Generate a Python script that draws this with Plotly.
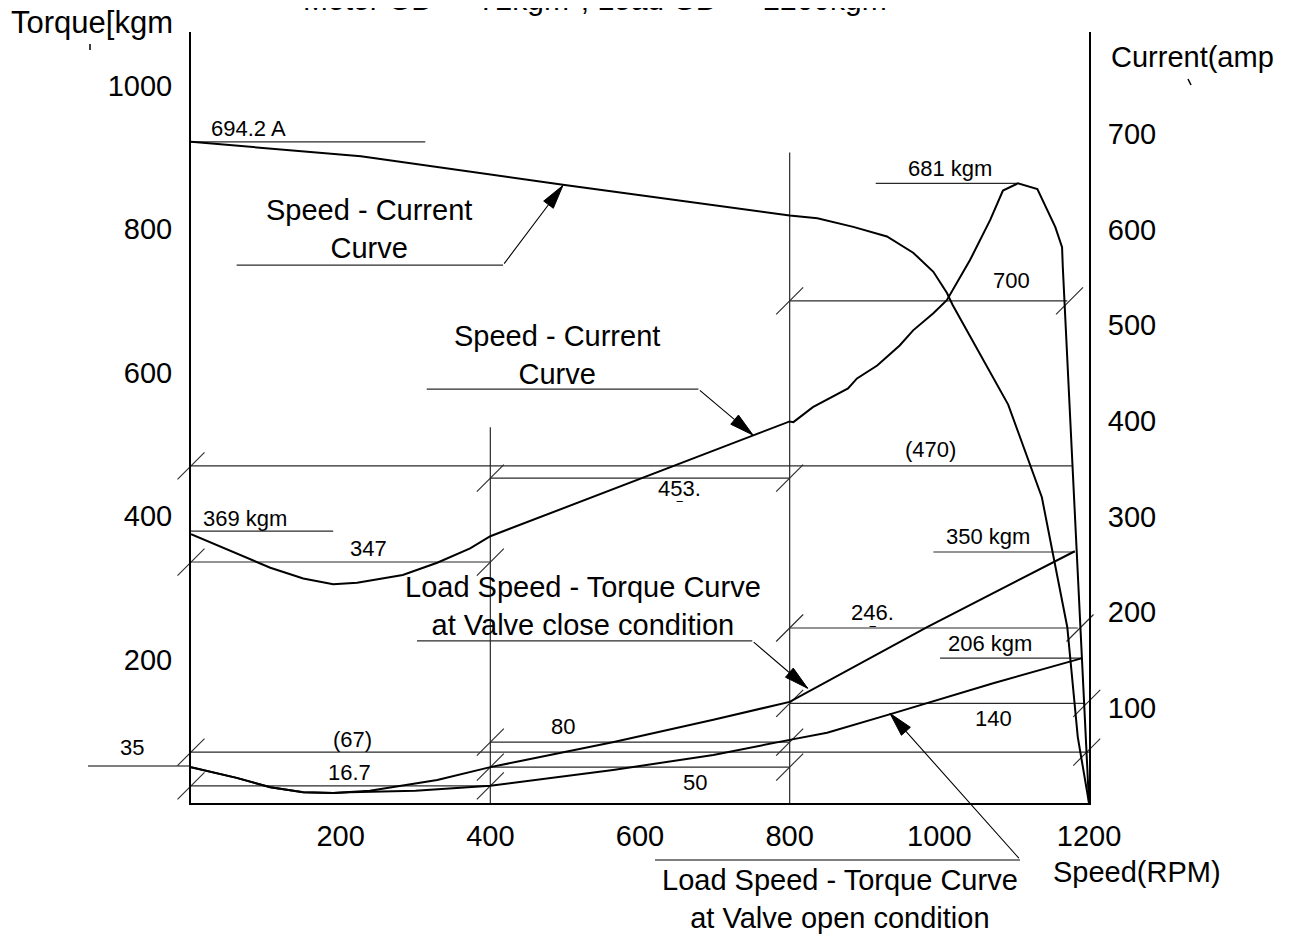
import math
import plotly.graph_objects as go

# ---------------- data ----------------
x_ticks = [200, 400, 600, 800, 1000, 1200]
torque_ticks = [200, 400, 600, 800, 1000]
current_ticks = [100, 200, 300, 400, 500, 600, 700]

# motor speed-torque curve (kgm)
motor_speed = [0, 61, 106, 150, 190, 222, 283, 329, 373, 400, 800, 805, 831, 878, 890, 917, 947,
               965, 992, 1010, 1041, 1068, 1085, 1105, 1131, 1155, 1164, 1165, 1200]
motor_torque = [375, 348, 328, 313, 305, 307, 318, 335, 355, 372, 532, 531, 552, 578, 592, 610, 638,
                659, 683, 701, 757, 813, 854, 864, 856, 803, 775, 747, 0]

# speed-current curve (A, right axis)
cur_speed = [0, 227, 497, 800, 837, 885, 930, 965, 992, 1010, 1018, 1092, 1137, 1171, 1185, 1200]
cur_amp = [692, 677, 647, 615, 612, 603, 593, 576, 556, 534, 521, 417, 320, 184, 69, 0]

# load curve, valve close (kgm)
close_speed = [0, 61, 106, 150, 190, 239, 329, 400, 565, 698, 800, 983, 1181]
close_torque = [50, 35, 22, 15, 14, 17, 32, 50, 85, 116, 141, 245, 351]

# load curve, valve open (kgm)
open_speed = [0, 61, 106, 150, 190, 212, 300, 400, 564, 698, 800, 850, 938, 1072, 1191]
open_torque = [50, 35, 22, 15, 14, 15, 17, 24, 46, 67, 88, 98, 125, 167, 202]

# dimension lines (kgm level, speed from, speed to)
dim_y = [470, 453, 336, 700, 244, 139, 71, 85, 50, 24]
dim_x0 = [0, 400, 0, 800, 800, 800, 0, 400, 400, 0]
dim_x1 = [1177, 800, 400, 1171, 1185, 1195, 1200, 800, 800, 400]

# dimension end ticks
tick_speed = [0, 0, 400, 400, 800, 800, 1174, 800, 1188, 800, 1197, 0, 1197, 400, 800, 400, 800, 0, 400]
tick_torque = [470, 336, 336, 453, 453, 700, 700, 244, 244, 139, 139, 71, 71, 85, 85, 50, 50, 24, 24]

# extension (vertical) lines
ext_speed = [400, 800]
ext_top = [524, 907]

# value leaders (kgm level, speed from, speed to)
lead_y = [379, 864, 350, 202, 750, 577, 226]
lead_x0 = [0, 915, 992, 1001, 61, 315, 302]
lead_x1 = [190, 1105, 1181, 1191, 417, 678, 750]
amp_lead = (692, 0, 313)  # current leader: amps, from, to

# arrow leaders: tail (speed, kgm) -> head (speed, kgm)
arrow_tail = [(417, 750), (678, 577), (750, 226), (1108, -79)]
arrow_head = [(497, 861), (751, 513), (824, 160), (934, 125)]

# dimension / value texts: (text, speed, kgm)
dim_texts = [
    ("681 kgm", 1014, 885), ("700", 1097, 729), ("(470)", 988, 493),
    ("453.", 653, 439), ("369 kgm", 72, 397), ("347", 237, 355),
    ("350 kgm", 1065, 372), ("246.", 911, 265), ("206 kgm", 1068, 223),
    ("140", 1072, 118), ("80", 497, 106), ("(67)", 216, 88),
    ("16.7", 212, 42), ("50", 673, 28),
]

# ---------------- figure ----------------
# page body has an 8px margin: figure is 8px smaller, margins shifted by 8
PAGE_OFF = 8
FIG_W, FIG_H = 1290 - PAGE_OFF, 936 - PAGE_OFF
ML, MR, MT, MB = 191 - PAGE_OFF, 201, 32 - PAGE_OFF, 133
PW, PH = 898, 771  # plot area size in px
XR = (0, 1200)
YR = (0, 1075)
Y2R = (0, 807)
KX = PW / (XR[1] - XR[0])  # px per rpm
KY = PH / (YR[1] - YR[0])  # px per kgm


def px_x(px):  # page pixel -> paper x
    return (px - 191) / PW


def px_y(py):  # page pixel -> paper y
    return (803 - py) / PH


FONT = "Liberation Sans, Arial, sans-serif"
DIM = "#2a2a2a"
BIG = 29
SMALL = 22
HEAD_LEN, HEAD_HALF_W = 24, 6  # arrowhead size in px

fig = go.Figure()


def seg_xy(x0s, x1s, ys):
    xs, yy = [], []
    for a, b, y in zip(x0s, x1s, ys):
        xs += [a, b, None]
        yy += [y, y, None]
    return xs, yy


dx, dy = seg_xy(dim_x0, dim_x1, dim_y)
fig.add_trace(go.Scatter(x=dx, y=dy, mode="lines", line=dict(color=DIM, width=1.2), hoverinfo="skip"))

lx, ly = seg_xy(lead_x0, lead_x1, lead_y)
fig.add_trace(go.Scatter(x=lx, y=ly, mode="lines", line=dict(color=DIM, width=1.2), hoverinfo="skip"))

ex, ey = [], []
for s, t in zip(ext_speed, ext_top):
    ex += [s, s, None]
    ey += [0, t, None]
fig.add_trace(go.Scatter(x=ex, y=ey, mode="lines", line=dict(color=DIM, width=1.2), hoverinfo="skip"))

fig.add_trace(go.Scatter(x=[amp_lead[1], amp_lead[2]], y=[amp_lead[0], amp_lead[0]], yaxis="y2",
                         mode="lines", line=dict(color=DIM, width=1.2), hoverinfo="skip"))

fig.add_trace(go.Scatter(x=tick_speed, y=tick_torque, mode="markers", cliponaxis=False,
                         marker=dict(symbol="line-ne", size=27, color=DIM, line=dict(width=1.1, color=DIM)),
                         hoverinfo="skip"))

curve = dict(color="black", width=2)
fig.add_trace(go.Scatter(x=motor_speed, y=motor_torque, mode="lines", line=curve))
fig.add_trace(go.Scatter(x=close_speed, y=close_torque, mode="lines", line=curve))
fig.add_trace(go.Scatter(x=open_speed, y=open_torque, mode="lines", line=curve))
fig.add_trace(go.Scatter(x=cur_speed, y=cur_amp, yaxis="y2", mode="lines", line=curve))

# arrow leaders: line as annotation arrow (may leave plot area), head as filled triangle
for (tx, ty), (hx, hy) in zip(arrow_tail, arrow_head):
    fig.add_annotation(x=hx, y=hy, ax=tx, ay=ty, xref="x", yref="y", axref="x", ayref="y",
                       text="", showarrow=True, arrowhead=0, arrowwidth=1.1, arrowcolor="black", standoff=0)
    # direction in screen pixels (y up)
    vx, vy = (hx - tx) * KX, (hy - ty) * KY
    n = math.hypot(vx, vy)
    ux, uy = vx / n, vy / n
    bx, by = -ux * HEAD_LEN, -uy * HEAD_LEN
    px_, py_ = -uy * HEAD_HALF_W, ux * HEAD_HALF_W
    tri_x = [hx, hx + (bx + px_) / KX, hx + (bx - px_) / KX, hx]
    tri_y = [hy, hy + (by + py_) / KY, hy + (by - py_) / KY, hy]
    fig.add_trace(go.Scatter(x=tri_x, y=tri_y, mode="lines", fill="toself", fillcolor="black",
                             line=dict(color="black", width=1), hoverinfo="skip"))

for txt, sx, ty in dim_texts:
    fig.add_annotation(x=sx, y=ty, text=txt, showarrow=False, font=dict(size=SMALL),
                       xanchor="center", yanchor="middle")
fig.add_annotation(x=653, y=411, text="‾", showarrow=False, font=dict(size=16))
fig.add_annotation(x=911, y=237, text="‾", showarrow=False, font=dict(size=16))
fig.add_annotation(x=24, y=941, text="694.2 A", showarrow=False, xanchor="left", yanchor="middle",
                   font=dict(size=SMALL))

fig.add_annotation(x=238, y=801, text="Speed - Current<br>Curve", showarrow=False, font=dict(size=BIG))
fig.add_annotation(x=489, y=625, text="Speed - Current<br>Curve", showarrow=False, font=dict(size=BIG))
fig.add_annotation(x=524, y=275, text="Load Speed - Torque Curve<br>at Valve close condition",
                   showarrow=False, font=dict(size=BIG))


# outside the plot area (paper coords)
def paper_text(txt, px, py, size):
    fig.add_annotation(x=px_x(px), y=px_y(py), xref="paper", yref="paper", text=txt, showarrow=False,
                       xanchor="center", yanchor="middle", font=dict(size=size))


paper_text("Load Speed - Torque Curve<br>at Valve open condition", 840, 899, BIG)
paper_text("Speed(RPM)", 1137, 872, BIG)
paper_text("Torque[kgm", 92, 22, 31)
paper_text("Current(amp", 1192, 57, BIG)
paper_text("35", 132, 747, SMALL)
paper_text("Motor GD<sup>2</sup> = 72kgm<sup>2</sup>, Load GD<sup>2</sup> = 2200kgm<sup>2</sup>", 600, -3, 30)


# leaders outside the plot
def paper_line(x0, y0, x1, y1, w=1.2):
    fig.add_shape(type="line", xref="paper", yref="paper", x0=px_x(x0), x1=px_x(x1),
                  y0=px_y(y0), y1=px_y(y1), line=dict(color="black", width=w))


paper_line(88, 766, 191, 766)
paper_line(655, 860, 1020, 860)
# clipped second-line glyph remnants
paper_line(90, 44, 90, 50, 1.5)
paper_line(1188, 79, 1191, 85, 1.5)

axis_common = dict(showgrid=False, zeroline=False, showline=True, linecolor="black", linewidth=2,
                   ticks="", tickfont=dict(size=BIG, color="black"), fixedrange=True)

fig.update_layout(
    width=FIG_W, height=FIG_H,
    margin=dict(l=ML, r=MR, t=MT, b=MB, autoexpand=False),
    paper_bgcolor="white", plot_bgcolor="white",
    showlegend=False,
    font=dict(family=FONT, color="black"),
    xaxis=dict(range=list(XR), tickvals=x_ticks, ticklabelstandoff=6, automargin=False, **axis_common),
    yaxis=dict(range=list(YR), tickvals=torque_ticks, ticklabelstandoff=11, automargin=False, **axis_common),
    yaxis2=dict(range=list(Y2R), tickvals=current_ticks, overlaying="y", side="right",
                ticklabelstandoff=11, automargin=False, **axis_common),
)

fig.write_html("out.html")
